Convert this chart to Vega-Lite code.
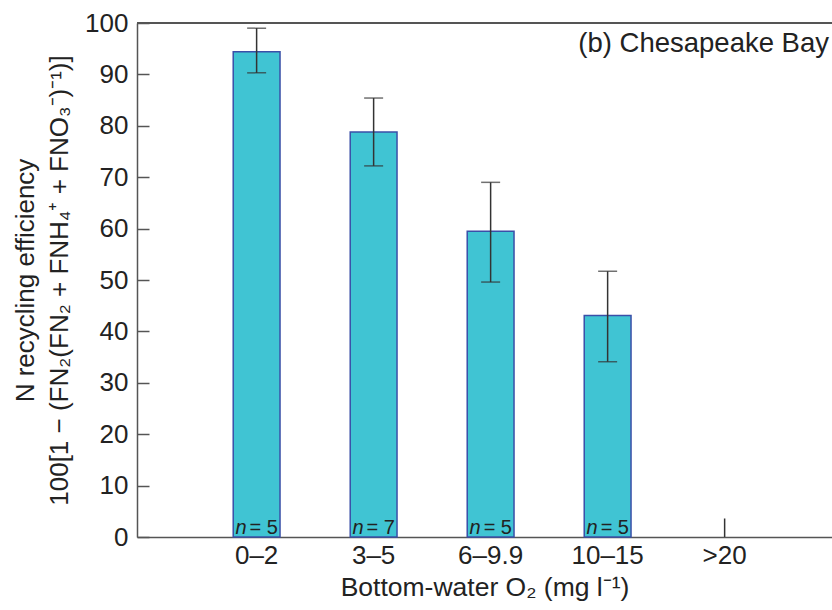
{
  "$schema": "https://vega.github.io/schema/vega-lite/v6.json",
  "width": 695,
  "height": 514,
  "autosize": "none",
  "padding": {"left": 137, "top": 23, "right": 0, "bottom": 73},
  "background": "white",
  "config": {
    "view": {"stroke": null},
    "font": "Liberation Sans",
    "axis": {"grid": false, "domainColor": "#555", "domainWidth": 1.5, "tickColor": "#555", "tickWidth": 1.5, "labelColor": "#222", "titleColor": "#222", "labelFont": "Liberation Sans", "titleFont": "Liberation Sans", "titleFontWeight": "normal"}
  },
  "title": {"text": "(b) Chesapeake Bay", "anchor": "end", "frame": "group", "orient": "top", "offset": -47, "fontSize": 27.5, "fontWeight": "normal", "color": "#222", "font": "Liberation Sans", "dx": -3},
  "data": {"values": [
    {"o2": "0–2", "value": 94.4, "lo": 90.3, "hi": 99.0, "n": "= 5"},
    {"o2": "3–5", "value": 78.8, "lo": 72.2, "hi": 85.4, "n": "= 7"},
    {"o2": "6–9.9", "value": 59.5, "lo": 49.6, "hi": 69.0, "n": "= 5"},
    {"o2": "10–15", "value": 43.1, "lo": 34.1, "hi": 51.7, "n": "= 5"}
  ]},
  "encoding": {
    "x": {"field": "o2", "type": "nominal", "sort": null,
      "scale": {"domain": ["0–2", "3–5", "6–9.9", "10–15", ">20"], "paddingInner": 0.6, "paddingOuter": 0.77, "align": 0.534},
      "axis": {"title": "Bottom-water O₂ (mg l⁻¹)", "labelAngle": 0, "ticks": false, "labelPadding": 5, "labelFontSize": 26, "titleFontSize": 26.5, "titlePadding": 6}}
  },
  "layer": [
    {
      "mark": {"type": "bar", "fill": "#40C4D3", "stroke": "#3A4FA8", "strokeWidth": 1.5},
      "encoding": {
        "y": {"field": "value", "type": "quantitative",
          "scale": {"domain": [0, 100], "nice": false},
          "axis": {"values": [0, 10, 20, 30, 40, 50, 60, 70, 80, 90, 100], "tickSize": -12, "labelPadding": 21, "labelFontSize": 26,
            "title": ["N recycling efficiency", "100[1 − (FN₂(FN₂ + FNH₄⁺ + FNO₃⁻)⁻¹)]"], "titleFontSize": 26, "titleLineHeight": 34, "titlePadding": 12}}
      }
    },
    {
      "mark": {"type": "rule", "color": "#555", "strokeWidth": 1.5},
      "encoding": {"x": {"value": 0}, "x2": {"value": 695}, "y": {"datum": 100, "type": "quantitative"}}
    },
    {
      "mark": {"type": "rule", "color": "#333", "strokeWidth": 1.5},
      "encoding": {"y": {"field": "lo", "type": "quantitative"}, "y2": {"field": "hi"}}
    },
    {
      "mark": {"type": "tick", "color": "#333", "thickness": 1.5, "size": 19, "orient": "horizontal"},
      "encoding": {"y": {"field": "lo", "type": "quantitative"}}
    },
    {
      "mark": {"type": "tick", "color": "#333", "thickness": 1.5, "size": 19, "orient": "horizontal"},
      "encoding": {"y": {"field": "hi", "type": "quantitative"}}
    },
    {
      "mark": {"type": "text", "fontSize": 20, "fontStyle": "italic", "color": "#222", "align": "right", "baseline": "alphabetic", "dx": -10, "dy": -3},
      "encoding": {"y": {"datum": 0, "type": "quantitative"}, "text": {"value": "n"}}
    },
    {
      "mark": {"type": "text", "fontSize": 20, "color": "#222", "align": "left", "baseline": "alphabetic", "dx": -7, "dy": -3},
      "encoding": {"y": {"datum": 0, "type": "quantitative"}, "text": {"field": "n"}}
    },
    {
      "data": {"values": [{"o2": ">20", "lo": 0, "hi": 3.6}]},
      "mark": {"type": "rule", "color": "#333", "strokeWidth": 1.5},
      "encoding": {"y": {"field": "lo", "type": "quantitative"}, "y2": {"field": "hi"}}
    }
  ]
}
